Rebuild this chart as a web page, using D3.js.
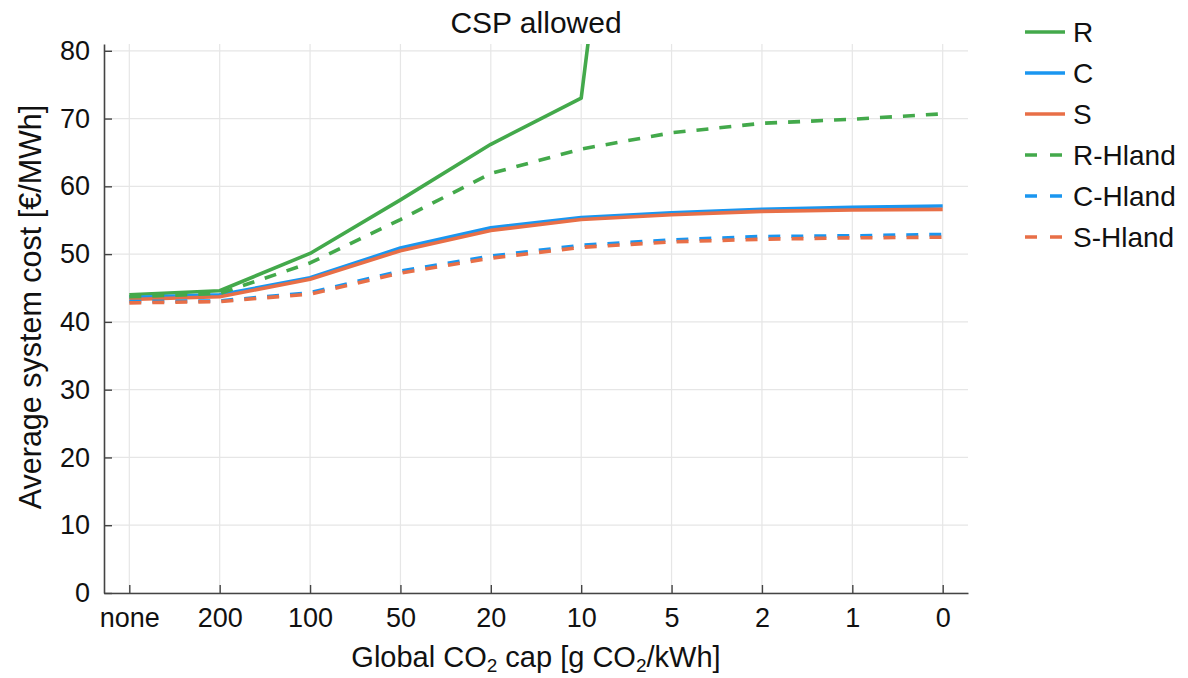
<!DOCTYPE html>
<html><head><meta charset="utf-8">
<script src="https://cdn.jsdelivr.net/npm/d3@7"></script>
<style>body{margin:0;background:#fff;} text{font-family:"Liberation Sans",Arial,sans-serif;fill:#111;}</style>
</head><body><svg id="c" width="1188" height="678"></svg>
<script>
const categories = ["none","200","100","50","20","10","5","2","1","0"];
const yTicks = [0,10,20,30,40,50,60,70,80];
const seriesNames = ["R","C","S","R-Hland","C-Hland","S-Hland"];
const R      = [44.0, 44.6, 50.1, 58.0, 66.2, 73.0, 180, null, null, null];
const C      = [43.6, 44.0, 46.5, 50.9, 53.9, 55.4, 56.1, 56.6, 56.9, 57.1];
const S      = [43.3, 43.7, 46.3, 50.5, 53.5, 55.1, 55.8, 56.3, 56.5, 56.6];
const RHland = [43.7, 44.2, 48.7, 55.1, 61.9, 65.5, 67.9, 69.3, 69.9, 70.7];
const CHland = [43.0, 43.1, 44.3, 47.5, 49.7, 51.3, 52.1, 52.6, 52.7, 52.9];
const SHland = [42.8, 43.0, 44.1, 47.2, 49.4, 51.0, 51.8, 52.2, 52.4, 52.5];

const green = "#43a94b", blue = "#1a96f0", orange = "#e86f47";
const series = [
  {name:"R", values:R, color:green, dash:null},
  {name:"C", values:C, color:blue, dash:null},
  {name:"S", values:S, color:orange, dash:null},
  {name:"R-Hland", values:RHland, color:green, dash:"12,11"},
  {name:"C-Hland", values:CHland, color:blue, dash:"12,11"},
  {name:"S-Hland", values:SHland, color:orange, dash:"12,11"}
];

const svg = d3.select("#c");
const L = 104, Rt = 968, T = 44, B = 593;
const x = d3.scaleLinear().domain([-0.28, categories.length - 1 + 0.28]).range([L, Rt]);
const y = d3.scaleLinear().domain([0, 81]).range([B, T]);

// grid
const g = svg.append("g");
g.selectAll("line.hg").data(yTicks).enter().append("line")
  .attr("x1", L).attr("x2", Rt).attr("y1", d => y(d)).attr("y2", d => y(d))
  .attr("stroke", "#e6e6e6").attr("stroke-width", 1.2);
g.selectAll("line.vg").data(categories).enter().append("line")
  .attr("x1", (d,i) => x(i)).attr("x2", (d,i) => x(i)).attr("y1", T).attr("y2", B)
  .attr("stroke", "#e6e6e6").attr("stroke-width", 1.2);

// axes
const xAxis = d3.axisBottom(x).tickValues(d3.range(categories.length))
  .tickFormat(i => categories[i]).tickSizeInner(-8).tickSizeOuter(0).tickPadding(15);
const ax = svg.append("g").attr("transform", `translate(0,${B})`).call(xAxis);
const yAxis = d3.axisLeft(y).tickValues(yTicks).tickSizeInner(-8).tickSizeOuter(0).tickPadding(14);
const ay = svg.append("g").attr("transform", `translate(${L},0)`).call(yAxis);
[ax, ay].forEach(a => {
  a.select(".domain").attr("stroke", "#444").attr("stroke-width", 1.6);
  a.selectAll(".tick line").attr("stroke", "#444").attr("stroke-width", 1.4);
  a.selectAll(".tick text").attr("font-size", 27).attr("font-family", '"Liberation Sans",Arial,sans-serif').attr("fill", "#111");
});
ax.selectAll(".tick text").attr("dy", "0.71em");

// clip
svg.append("clipPath").attr("id", "clip").append("rect")
  .attr("x", L).attr("y", T).attr("width", Rt - L).attr("height", B - T);

const line = d3.line().defined(d => d != null).x((d,i) => x(i)).y(d => y(d));
const lg = svg.append("g").attr("clip-path", "url(#clip)");
series.forEach(s => {
  lg.append("path").datum(s.values).attr("d", line)
    .attr("fill", "none").attr("stroke", s.color).attr("stroke-width", 3.6)
    .attr("stroke-dasharray", s.dash).attr("stroke-linejoin", "round");
});

// title
svg.append("text").attr("x", (L + Rt) / 2).attr("y", 33).attr("text-anchor", "middle")
  .attr("font-size", 30).text("CSP allowed");

// x label
const xl = svg.append("text").attr("x", (L + Rt) / 2).attr("y", 667).attr("text-anchor", "middle").attr("font-size", 29);
xl.append("tspan").text("Global CO");
xl.append("tspan").attr("font-size", 19).attr("dy", 5).text("2");
xl.append("tspan").attr("dy", -5).text(" cap [g CO");
xl.append("tspan").attr("font-size", 19).attr("dy", 5).text("2");
xl.append("tspan").attr("dy", -5).text("/kWh]");

// y label
svg.append("text").attr("transform", `translate(41,307) rotate(-90)`)
  .attr("text-anchor", "middle").attr("font-size", 30.5).text("Average system cost [€/MWh]");

// legend
const leg = svg.append("g");
series.forEach((s, i) => {
  const yy = 32 + i * 41;
  leg.append("line").attr("x1", 1025).attr("x2", 1065).attr("y1", yy).attr("y2", yy)
    .attr("stroke", s.color).attr("stroke-width", 3.6).attr("stroke-dasharray", s.dash ? "12,13" : null);
  leg.append("text").attr("x", 1073).attr("y", yy).attr("dy", "0.36em").attr("font-size", 28).text(s.name);
});
</script></body></html>
